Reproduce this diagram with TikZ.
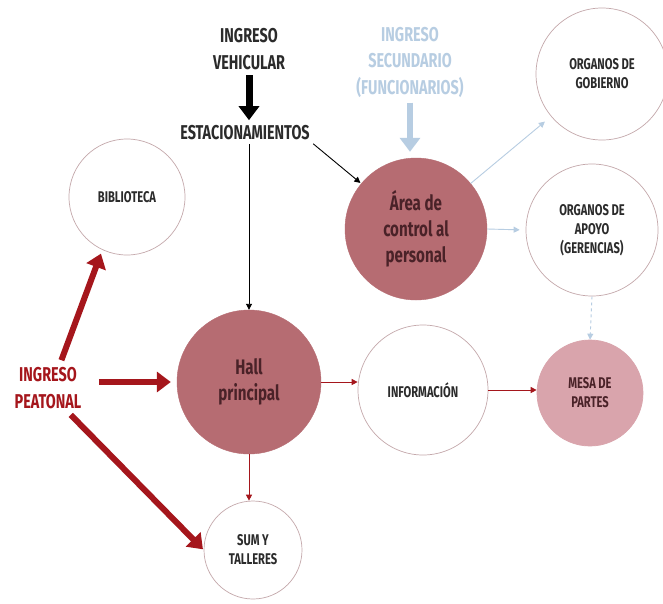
\documentclass[tikz,border=0pt]{standalone}
\usepackage{fontspec}
\setmainfont{Fira Sans}[FakeStretch=0.72]
\usetikzlibrary{arrows.meta}
\definecolor{rosedark}{HTML}{B66C72}
\definecolor{roselight}{HTML}{D9A4AC}
\definecolor{rosetext}{HTML}{4A2228}
\definecolor{rimgray}{HTML}{C4A8AB}
\definecolor{pedred}{HTML}{A5161C}
\definecolor{skyblue}{HTML}{B7CDE2}
\definecolor{inkgray}{HTML}{2B2B2B}
\tikzset{
  room style/.style={circle, draw=rimgray, line width=0.7pt, fill=white, inner sep=0pt,
    align=center, text=inkgray, font=\fontsize{15.5}{19}\selectfont\bfseries},
  main style/.style={circle, fill=rosedark, draw=rosedark, inner sep=0pt,
    align=center, text=rosetext, font=\fontsize{21}{26}\selectfont\bfseries},
  label style/.style={align=center, font=\fontsize{20}{26.5}\selectfont\bfseries},
  big arr/.style={-{Triangle[length=14pt,width=20pt]}, line width=7pt},
  thin arr/.style={-{Triangle[length=6pt,width=6pt]}, line width=0.9pt}
}
\begin{document}
\begin{tikzpicture}[x=1pt,y=-1pt]
\useasboundingbox[fill=white] (0,0) rectangle (663,603);

\node[room style, minimum size=116pt] (biblio) at (127,197) {BIBLIOTECA};
\node[room style, minimum size=132pt] (gob) at (602,74) {ORGANOS DE\\GOBIERNO};
\node[main style, minimum size=142pt] (area) at (416,229) {Área de\\control al\\personal};
\node[room style, minimum size=132pt] (apoyo) at (592,230) {ORGANOS DE\\APOYO\\(GERENCIAS)};
\node[main style, minimum size=144pt] (hall) at (249,382) {Hall\\principal};
\node[room style, minimum size=130pt] (info) at (423,390) {INFORMACIÓN};
\node[room style, fill=roselight, draw=roselight, text=rosetext, minimum size=106pt] (mesa) at (590,393) {MESA DE\\PARTES};
\node[room style, minimum size=98pt] (sum) at (253,550) {SUM Y\\TALLERES};

\node[label style, text=inkgray] (vehic) at (249,49) {INGRESO\\VEHICULAR};
\node[label style, text=inkgray] (estac) at (245,133) {ESTACIONAMIENTOS};
\node[label style, text=skyblue] (secund) at (410,62) {INGRESO\\SECUNDARIO\\(FUNCIONARIOS)};
\node[label style, text=pedred] (peat) at (48,388) {INGRESO\\PEATONAL};

\draw[big arr, black, shorten <=2pt, shorten >=2pt] (vehic.south) -- (vehic.south |- estac.north);
\draw[thin arr, black] (estac.south -| hall.north) -- (hall.north);
\draw[thin arr, black, shorten >=1pt] (estac.south east) -- (area);

\draw[big arr, skyblue, line width=6pt, shorten <=2pt, shorten >=6pt] (secund.south) -- (secund.south |- area.north);
\draw[thin arr, skyblue, shorten >=8pt] (area) -- (gob);
\draw[thin arr, skyblue, shorten >=6pt] (area.east) -- (apoyo.west);
\draw[thin arr, skyblue, dashed] (apoyo.south) -- (mesa.north);

\draw[big arr, pedred, line width=6pt, shorten <=4pt, shorten >=4pt] ([xshift=12pt]peat.north) -- (biblio.245);
\draw[big arr, pedred, line width=6pt, shorten <=14pt, shorten >=6pt] (peat.east |- hall.west) -- (hall.west);
\draw[big arr, pedred, line width=6pt, shorten <=4pt, shorten >=1pt] ([xshift=20pt]peat.south) -- (sum.west);

\draw[thin arr, pedred] (hall.east) -- (hall.east -| info.west);
\draw[thin arr, pedred] (info.east) -- (info.east -| mesa.west);
\draw[thin arr, pedred] (hall.south) -- (hall.south |- sum.north);

\end{tikzpicture}
\end{document}
